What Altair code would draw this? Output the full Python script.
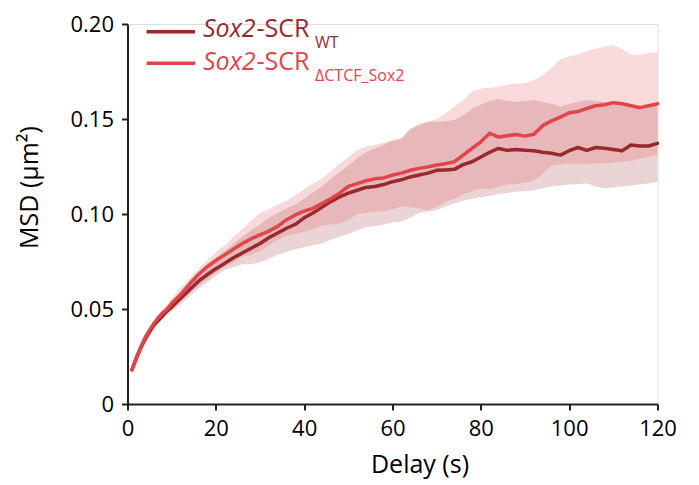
import altair as alt
import pandas as pd

# ---------------- data ----------------
delay = [1, 2, 3, 4, 5, 6, 7, 8, 9, 10,
         12, 14, 16, 18, 20, 22, 24, 26, 28, 30,
         32, 34, 36, 38, 40, 42, 44, 46, 48, 50,
         52, 54, 56, 58, 60, 62, 64, 66, 68, 70,
         72, 74, 76, 78, 80, 82, 84, 86, 88, 90,
         92, 94, 96, 98, 100, 102, 104, 106, 108, 110,
         112, 114, 116, 118, 120]

wt_mean = [.018, .024, .0295, .034, .038, .0415, .044, .0465, .049, .051,
           .0555, .060, .0645, .068, .0712, .074, .077, .0795, .082, .0845,
           .0875, .090, .0925, .0945, .098, .1005, .1035, .1065, .109, .111,
           .1125, .114, .1145, .1155, .117, .118, .1195, .1205, .1215, .123,
           .1232, .1235, .126, .1275, .130, .1325, .1345, .1335, .134, .1335,
           .1333, .1325, .132, .131, .1333, .135, .1335, .135, .1346, .134,
           .1333, .1363, .1358, .1358, .1372]
wt_hi = [.019, .025, .0305, .0355, .040, .0435, .0465, .049, .0515, .054,
         .059, .064, .069, .0735, .077, .0805, .0845, .088, .0915, .0945,
         .098, .1005, .103, .105, .108, .1115, .1145, .1185, .122, .1255,
         .1295, .1325, .1345, .1365, .1385, .1395, .1445, .1475, .1485, .1485,
         .149, .1495, .152, .1555, .1575, .1595, .1605, .1595, .159, .1595,
         .160, .159, .158, .1565, .158, .159, .160, .1595, .159, .158,
         .157, .156, .1565, .1575, .1586]
wt_lo = [.017, .023, .0285, .033, .0365, .040, .0425, .045, .047, .049,
         .0525, .0565, .0605, .064, .0675, .0705, .072, .0735, .0735, .0745,
         .0765, .0785, .080, .0815, .0825, .0835, .0845, .0865, .088, .0895,
         .0915, .093, .0935, .0945, .0955, .096, .098, .1005, .1015, .102,
         .104, .1055, .107, .108, .109, .1095, .1105, .111, .1118, .112,
         .1125, .1135, .1145, .115, .1155, .1158, .116, .1145, .1135, .114,
         .1145, .115, .1155, .116, .117]

dc_mean = [.018, .0245, .030, .035, .039, .0425, .0455, .048, .050, .053,
           .0575, .063, .068, .0722, .0755, .0785, .0815, .0845, .087, .089,
           .091, .0935, .097, .0995, .1015, .103, .1055, .108, .111, .1145,
           .116, .1175, .1185, .119, .1205, .1215, .123, .124, .1248, .1258,
           .1265, .1275, .131, .1345, .138, .1425, .1405, .1412, .1418, .141,
           .142, .1465, .149, .151, .1533, .1539, .1556, .157, .1575, .1586,
           .158, .157, .156, .157, .158]
dc_hi = [.019, .0255, .031, .036, .0405, .044, .047, .050, .0525, .0555,
         .061, .066, .071, .0755, .080, .0835, .088, .092, .0965, .1005,
         .1025, .105, .107, .110, .113, .116, .1185, .1225, .1265, .130,
         .1335, .1355, .1365, .1375, .139, .140, .145, .1465, .1485, .150,
         .153, .1565, .160, .1645, .166, .1665, .167, .168, .1687, .169,
         .1705, .173, .177, .1815, .183, .1838, .1858, .187, .188, .189,
         .1868, .1838, .184, .1848, .185]
dc_lo = [.017, .0235, .029, .034, .0375, .041, .0435, .046, .048, .050,
         .054, .058, .062, .0655, .069, .0725, .0745, .0775, .0785, .0805,
         .0835, .0865, .0885, .0895, .0905, .092, .094, .0945, .095, .097,
         .100, .1005, .101, .1015, .1025, .104, .1035, .103, .102, .104,
         .1065, .108, .1105, .112, .1135, .113, .1145, .1155, .1158, .1165,
         .1175, .121, .1255, .126, .1265, .1262, .126, .1267, .1267, .127,
         .1275, .128, .1292, .130, .131]

x_ticks = [0, 20, 40, 60, 80, 100, 120]
y_ticks = [0, 0.05, 0.10, 0.15, 0.20]

gene_label = "Sox2"
construct_label = "-SCR"
sub_labels = ["WT", "ΔCTCF_Sox2"]
colors = ["#98292d", "#e2444a"]

# ---------------- chart ----------------
FONT = "Open Sans"
AX = "#231f20"

df_wt = pd.DataFrame({"t": delay, "m": wt_mean, "lo": wt_lo, "hi": wt_hi})
df_dc = pd.DataFrame({"t": delay, "m": dc_mean, "lo": dc_lo, "hi": dc_hi})

x_axis = alt.Axis(values=x_ticks, title="Delay (s)", grid=False,
                  domainColor=AX, domainWidth=2, tickColor=AX, tickWidth=2,
                  tickSize=6, labelFont=FONT, labelFontSize=22, labelColor="#000",
                  labelPadding=8, labelFlush=False,
                  titleFont=FONT, titleFontSize=25, titleFontWeight="normal",
                  titleColor="#000", titleX=292, titleY=68,
                  titleBaseline="alphabetic", titleAlign="center")
y_axis = alt.Axis(values=y_ticks, title="MSD (μm²)", grid=False,
                  labelExpr="datum.value == 0 ? '0' : format(datum.value, '.2f')",
                  domainColor=AX, domainWidth=2, tickColor=AX, tickWidth=2,
                  tickSize=6, labelFont=FONT, labelFontSize=22, labelColor="#000",
                  labelPadding=8, labelFlush=False,
                  titleFont=FONT, titleFontSize=25, titleFontWeight="normal",
                  titleColor="#000", titleX=-90, titleY=163, titleAngle=270,
                  titleBaseline="alphabetic", titleAlign="center")

x_scale = alt.Scale(domain=[0, 120], nice=False, zero=False)
y_scale = alt.Scale(domain=[0, 0.2], nice=False)


def band(df, color):
    return alt.Chart(df).mark_area(color=color, opacity=0.2).encode(
        x=alt.X("t:Q", scale=x_scale, axis=x_axis),
        y=alt.Y("lo:Q", scale=y_scale, axis=y_axis),
        y2="hi:Q",
    )


def line(df, color):
    return alt.Chart(df).mark_line(color=color, strokeWidth=3.5,
                                   strokeJoin="round", strokeCap="round").encode(
        x=alt.X("t:Q", scale=x_scale, axis=x_axis),
        y=alt.Y("m:Q", scale=y_scale, axis=y_axis),
    )


legend_layers = []
row_y = [7.7, 39.3]
base_y = [13.3, 45.5]
sub_y = [24.3, 56.5]
for i in range(2):
    ldf = pd.DataFrame({"gene": [gene_label], "construct": [construct_label],
                        "sub": [sub_labels[i]]})
    c = colors[i]
    legend_layers.append(
        alt.Chart(ldf).mark_rule(color=c, strokeWidth=3.5, strokeCap="butt").encode(
            x=alt.value(19), x2=alt.value(67.5), y=alt.value(row_y[i])))
    legend_layers.append(
        alt.Chart(ldf).mark_text(color=c, font=FONT, fontSize=25, fontStyle="italic",
                                 align="left", baseline="alphabetic").encode(
            x=alt.value(75.5), y=alt.value(base_y[i]), text="gene:N"))
    legend_layers.append(
        alt.Chart(ldf).mark_text(color=c, font=FONT, fontSize=25,
                                 align="left", baseline="alphabetic").encode(
            x=alt.value(129), y=alt.value(base_y[i]), text="construct:N"))
    legend_layers.append(
        alt.Chart(ldf).mark_text(color=c, font=FONT, fontSize=16,
                                 align="left", baseline="alphabetic").encode(
            x=alt.value(187.5), y=alt.value(sub_y[i]), text="sub:N"))

chart = alt.layer(
    band(df_wt, colors[0]),
    band(df_dc, colors[1]),
    line(df_wt, colors[0]),
    line(df_dc, colors[1]),
    *legend_layers,
).properties(
    width=530, height=380,
    padding={"left": 119.5, "top": 16, "right": 30, "bottom": 76},
    autosize=alt.AutoSizeParams(type="none"),
).configure_view(stroke=None).configure(background="white")

chart.save("out.html", embed_options={"renderer": "svg", "actions": False})
